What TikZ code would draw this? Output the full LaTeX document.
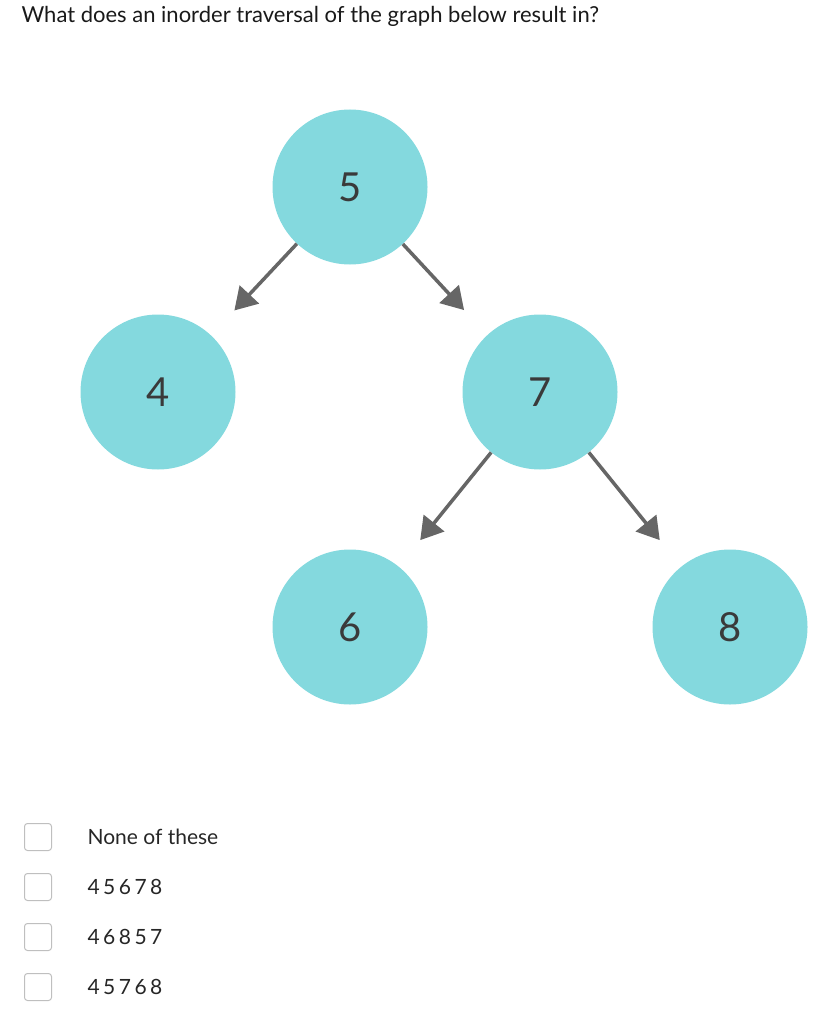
\documentclass[tikz,border=0pt]{standalone}
\usepackage{fontspec}
\setmainfont{Lato}
\usetikzlibrary{arrows.meta}
\definecolor{nodefill}{HTML}{84D9DE}
\definecolor{edgegray}{HTML}{666666}
\definecolor{numgray}{HTML}{3A3A3A}
\tikzset{
  treenode/.style={circle, fill=nodefill, minimum size=155pt, inner sep=0pt,
    text=numgray, font=\fontsize{40}{40}\selectfont},
  treeedge/.style={draw=edgegray, line width=3.5pt, shorten >=34pt,
    -{Triangle[length=22pt,width=26pt]}},
  checkbox/.style={draw=black!25, line width=1pt, rounded corners=3pt,
    minimum size=27pt, inner sep=0pt},
  answer/.style={anchor=west, font=\fontsize{21}{21}\selectfont, text=black!85}
}
\begin{document}
\begin{tikzpicture}[x=1pt,y=-1pt]
  \useasboundingbox (0,0) rectangle (833,1024);
  \node[anchor=west, font=\fontsize{22}{22}\selectfont, text=black!90] (title) at (18,16)
    {What does an inorder traversal of the graph below result in?};
  % tree
  \node[treenode] (n5) at (350,187) {5};
  \node[treenode] (n4) at (158,392) {4};
  \node[treenode] (n7) at (540,392) {7};
  \node[treenode] (n6) at (350,627) {6};
  \node[treenode] (n8) at (730,627) {8};
  \draw[treeedge] (n5) -- (n4);
  \draw[treeedge] (n5) -- (n7);
  \draw[treeedge] (n7) -- (n6);
  \draw[treeedge] (n7) -- (n8);
  % answers
  \node[checkbox] (c1) at (38,837) {};
  \node[checkbox] (c2) at (38,887) {};
  \node[checkbox] (c3) at (38,937) {};
  \node[checkbox] (c4) at (38,987) {};
  \node[answer] (a1) at (84,837) {None of these};
  \node[answer] (a2) at (84,887) {4\,5\,6\,7\,8};
  \node[answer] (a3) at (84,937) {4\,6\,8\,5\,7};
  \node[answer] (a4) at (84,987) {4\,5\,7\,6\,8};
\end{tikzpicture}
\end{document}
